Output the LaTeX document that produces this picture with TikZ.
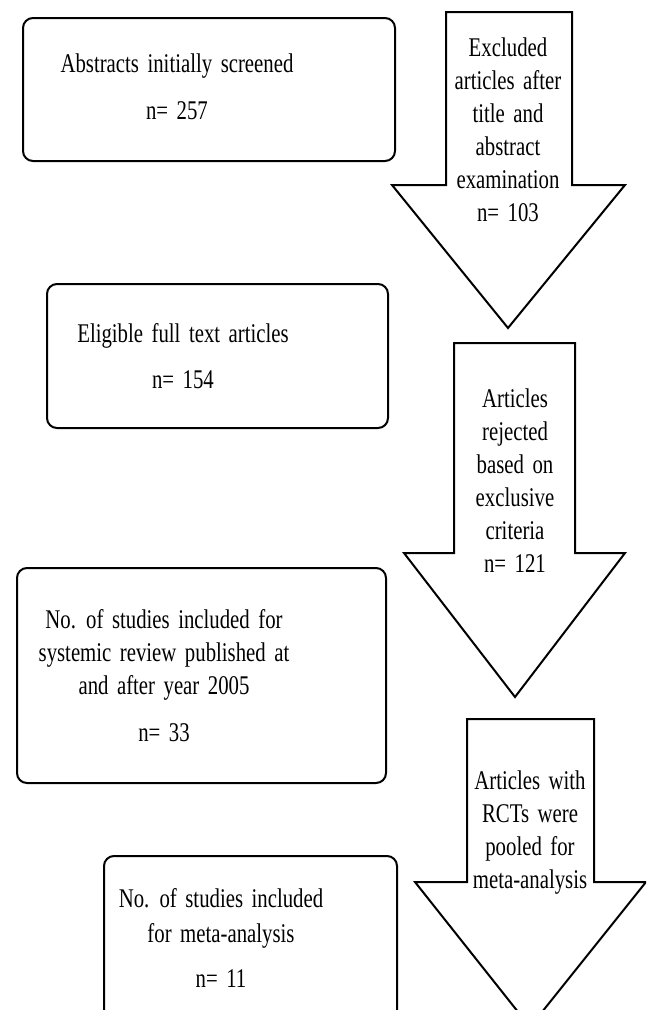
\documentclass[tikz,border=0pt]{standalone}
\usepackage{fontspec}
\setmainfont[FakeStretch=0.77]{Liberation Serif}
\usetikzlibrary{positioning}
\newcommand\flowfont{\fontsize{27}{33}\selectfont\spaceskip=8.5pt plus 2pt\relax}
% shaft left, shaft right, top, head base, head left, head right, tip
\newcommand\blockarrow[7]{%
  \draw[arrowshape] (#1,#3) -- (#2,#3) -- (#2,#4) -- (#6,#4) -- (#7) -- (#5,#4) -- (#1,#4) -- cycle;
}

\begin{document}
\begin{tikzpicture}[x=1pt, y=-1pt,
flowbox/.style={
  draw,
  line width=2pt,
  rounded corners=10pt,
  anchor=north west,
  inner sep=0pt},
arrowshape/.style={
  draw,
  line width=2pt,
  line join=miter},
flowtext/.style={
  font=\flowfont,
  align=center,
  anchor=north,
  inner sep=0pt}
]
\useasboundingbox (0,0) rectangle (646,1010);
\clip (0,0) rectangle (646,1010);

% boxes
\node[flowbox, minimum width=372pt, minimum height=143pt] (screened) at (22,17) {};
\node[flowbox, minimum width=341pt, minimum height=144pt] (eligible) at (46,283) {};
\node[flowbox, minimum width=369pt, minimum height=215pt] (review) at (16,567) {};
\node[flowbox, minimum width=293pt, minimum height=190pt] (meta) at (103,855) {};

\node[flowtext] (screenedtext) at (177,54) {Abstracts initially screened\\[14pt] n= 257};
\node[flowtext] (eligibletext) at (183,323) {Eligible full text articles\\[13pt] n= 154};
\node[flowtext] (reviewtext) at (164,609) {No. of studies included for\\ systemic review published at\\ and after year 2005\\[14pt] n= 33};
\node[flowtext] (metatext) at (221,888) {No. of studies included\\[2pt] for meta-analysis\\[12pt] n= 11};

% arrows
\blockarrow{446}{572}{12}{185}{392}{625}{508,328}
\blockarrow{454}{575}{343}{553}{404}{625}{515,697}
\blockarrow{467}{594}{719}{882}{415}{646}{530,1027}

\node[flowtext] (excluded) at (508,38) {Excluded\\ articles after\\ title and\\ abstract\\ examination\\ n= 103};
\node[flowtext] (rejected) at (515,389) {Articles\\ rejected\\ based on\\ exclusive\\ criteria\\ n= 121};
\node[flowtext] (pooled) at (530,771) {Articles with\\ RCTs were\\ pooled for\\ meta-analysis};

\end{tikzpicture}
\end{document}
